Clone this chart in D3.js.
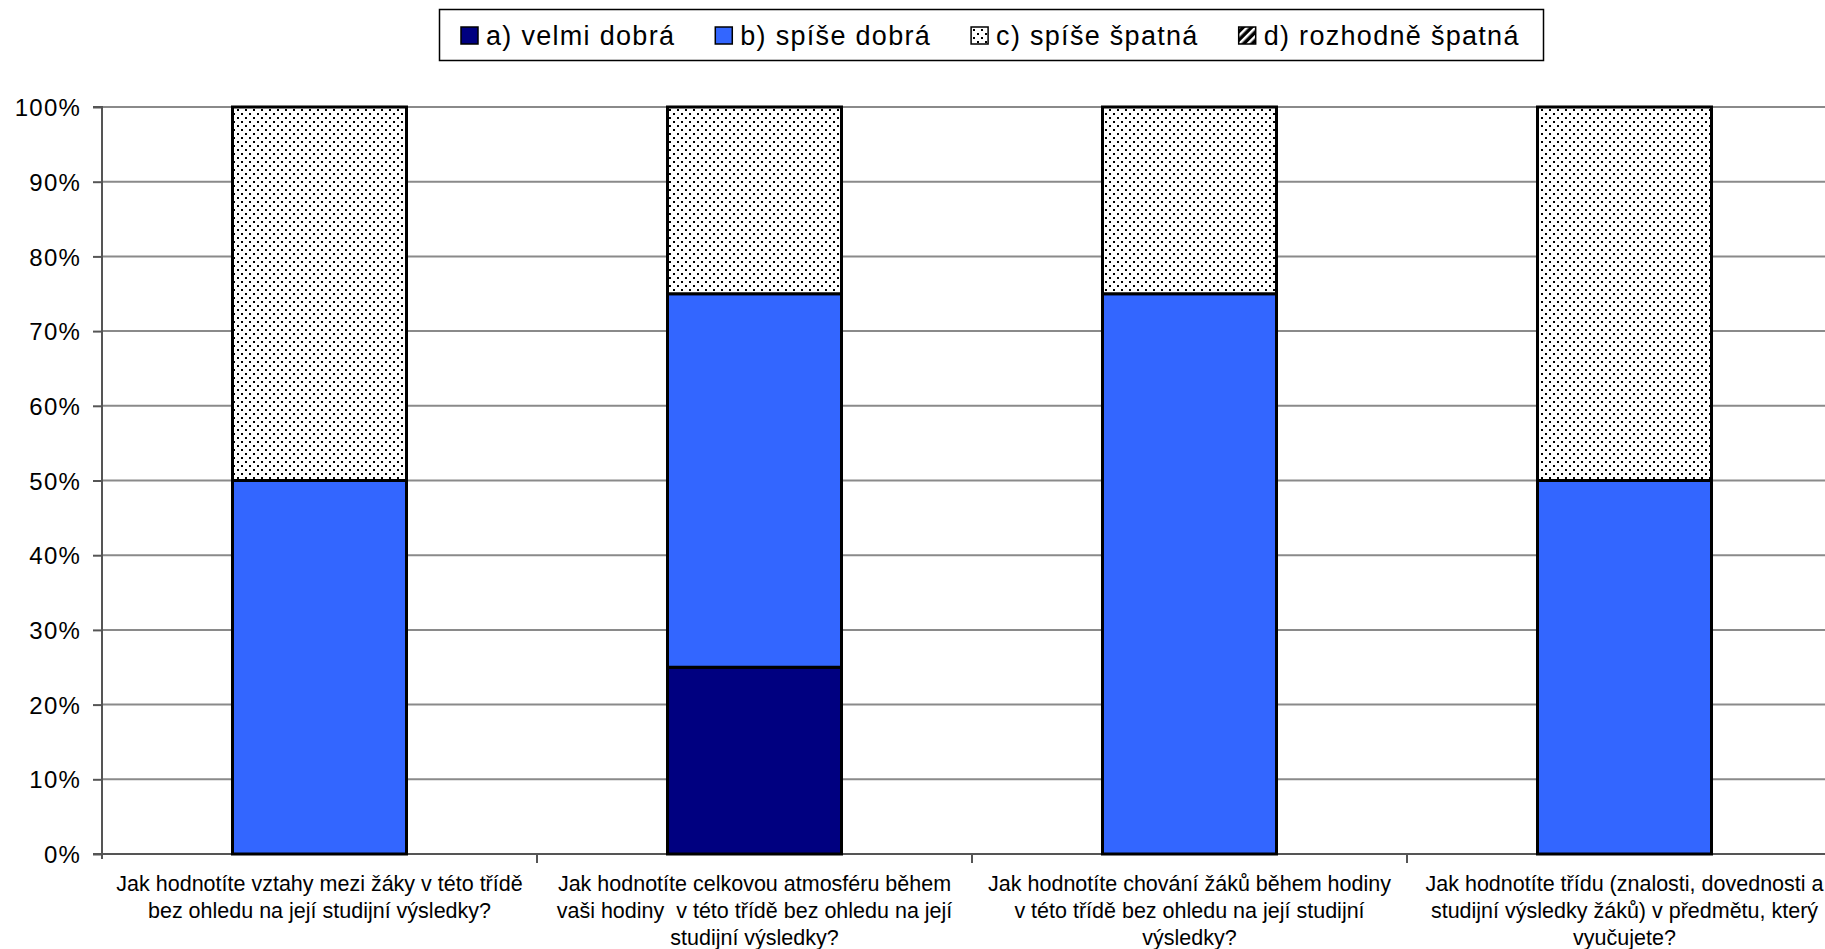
<!DOCTYPE html>
<html>
<head>
<meta charset="utf-8">
<script src="https://cdn.jsdelivr.net/npm/d3@7"></script>
<style>
  html, body { margin: 0; padding: 0; background: #fff; overflow: hidden; }
  svg { display: block; }
  text { font-family: "Liberation Sans", Arial, sans-serif; fill: #000; }
</style>
</head>
<body>
<svg id="chart" width="1825" height="949"></svg>
<script>
// ---- Data ----
const categories = [
  ["Jak hodnotíte vztahy mezi žáky v této třídě", "bez ohledu na její studijní výsledky?"],
  ["Jak hodnotíte celkovou atmosféru během", "vaši hodiny  v této třídě bez ohledu na její", "studijní výsledky?"],
  ["Jak hodnotíte chování žáků během hodiny", "v této třídě bez ohledu na její studijní", "výsledky?"],
  ["Jak hodnotíte třídu (znalosti, dovednosti a", "studijní výsledky žáků) v předmětu, který", "vyučujete?"]
];
const seriesKeys = ["a", "b", "c", "d"];
const seriesNames = ["a) velmi dobrá", "b) spíše dobrá", "c) spíše špatná", "d) rozhodně špatná"];
const valuesA = [0, 0.25, 0, 0];
const valuesB = [0.5, 0.5, 0.75, 0.5];
const valuesC = [0.5, 0.25, 0.25, 0.5];
const valuesD = [0, 0, 0, 0];
const yTicks = [0, 0.1, 0.2, 0.3, 0.4, 0.5, 0.6, 0.7, 0.8, 0.9, 1.0];

const rows = categories.map((c, i) => ({ id: i, a: valuesA[i], b: valuesB[i], c: valuesC[i], d: valuesD[i] }));

const svg = d3.select("#chart");
const defs = svg.append("defs");

// dotted pattern
const dots = defs.append("pattern").attr("id", "dots").attr("patternUnits", "userSpaceOnUse")
  .attr("width", 8).attr("height", 8);
dots.append("rect").attr("width", 8).attr("height", 8).attr("fill", "#fff");
dots.append("rect").attr("x", 1).attr("y", 1).attr("width", 2).attr("height", 2).attr("fill", "#000");
dots.append("rect").attr("x", 5).attr("y", 5).attr("width", 2).attr("height", 2).attr("fill", "#000");

// diagonal hatch pattern
const hatch = defs.append("pattern").attr("id", "hatch").attr("patternUnits", "userSpaceOnUse")
  .attr("width", 6).attr("height", 6).attr("patternTransform", "rotate(45)");
hatch.append("rect").attr("width", 6).attr("height", 6).attr("fill", "#000");
hatch.append("rect").attr("x", 0).attr("y", 0).attr("width", 2.5).attr("height", 6).attr("fill", "#fff");

const fills = { a: "#000080", b: "#3366FF", c: "url(#dots)", d: "url(#hatch)" };

// ---- Scales ----
const plotL = 102, plotR = 1842, plotT = 107, plotB = 854;
const x = d3.scaleBand().domain(rows.map(r => r.id)).range([plotL, plotR])
  .paddingInner(0.6).paddingOuter(0.3);
const y = d3.scaleLinear().domain([0, 1]).range([plotB, plotT]);

// gridlines
svg.append("g").selectAll("line").data(yTicks.filter(t => t > 0)).join("line")
  .attr("x1", plotL).attr("x2", 1825)
  .attr("y1", d => y(d)).attr("y2", d => y(d))
  .attr("stroke", "#8a8a8a").attr("stroke-width", 2);

// y axis
const yAxis = d3.axisLeft(y).tickValues(yTicks).tickFormat(d3.format(".0%")).tickSize(9).tickPadding(12);
const gy = svg.append("g").attr("transform", `translate(${plotL},0)`).call(yAxis);
gy.select(".domain").attr("stroke", "#555").attr("stroke-width", 2).attr("d", `M-9,${plotT}H0V${plotB + 5}`);
gy.selectAll(".tick line").attr("stroke", "#555").attr("stroke-width", 2);
gy.selectAll(".tick text").attr("font-size", 24).attr("letter-spacing", "1.2px")
  .attr("font-family", "Liberation Sans, Arial, sans-serif").attr("fill", "#000").attr("dy", "0.36em");

// bottom axis line
svg.append("line").attr("x1", plotL - 9).attr("x2", 1825).attr("y1", plotB).attr("y2", plotB)
  .attr("stroke", "#555").attr("stroke-width", 2);

// category boundary ticks
const step = x.step();
svg.append("g").selectAll("line").data(d3.range(1, rows.length + 1)).join("line")
  .attr("x1", d => plotL + d * step).attr("x2", d => plotL + d * step)
  .attr("y1", plotB).attr("y2", plotB + 9)
  .attr("stroke", "#555").attr("stroke-width", 2);

// bars
const stack = d3.stack().keys(seriesKeys)(rows);
const gBars = svg.append("g");
stack.forEach(layer => {
  gBars.append("g").selectAll("rect")
    .data(layer.filter(d => d[1] - d[0] > 0)).join("rect")
    .attr("x", d => x(d.data.id))
    .attr("width", x.bandwidth())
    .attr("y", d => y(d[1]))
    .attr("height", d => y(d[0]) - y(d[1]))
    .attr("fill", fills[layer.key])
    .attr("stroke", "#000").attr("stroke-width", 3);
});

// category labels
const gLab = svg.append("g");
rows.forEach((r, i) => {
  const cx = x(r.id) + x.bandwidth() / 2;
  categories[i].forEach((line, j) => {
    gLab.append("text").attr("x", cx).attr("y", 891 + j * 27)
      .attr("text-anchor", "middle").attr("font-size", 21.5)
      .style("white-space", "pre")
      .text(line);
  });
});

// legend
const lg = svg.append("g");
lg.append("rect").attr("x", 439.5).attr("y", 9.5).attr("width", 1104).attr("height", 51)
  .attr("fill", "#fff").attr("stroke", "#000").attr("stroke-width", 1.5);
let lx = 461;
seriesKeys.forEach((k, i) => {
  lg.append("rect").attr("x", lx).attr("y", 27).attr("width", 17).attr("height", 17)
    .attr("fill", fills[k]).attr("stroke", "#000").attr("stroke-width", 1.5);
  const t = lg.append("text").attr("x", lx + 25).attr("y", 45)
    .attr("font-size", 27).attr("letter-spacing", "1.3px").text(seriesNames[i]);
  lx += 25 + t.node().getComputedTextLength() + 40;
});
</script>
</body>
</html>
